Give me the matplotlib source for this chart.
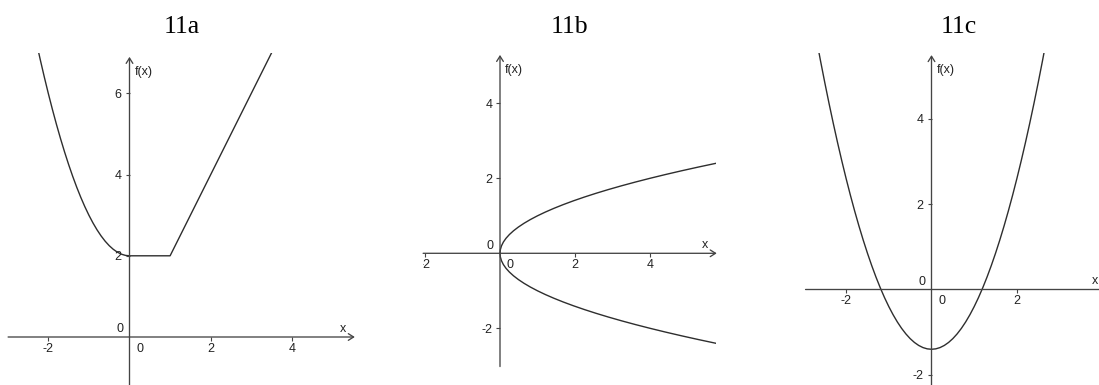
import matplotlib
matplotlib.use("Agg")
import matplotlib.pyplot as plt

plt.rcParams["font.family"] = ["Liberation Sans", "DejaVu Sans"]

W, H = 1099, 385

titles = ["11a", "11b", "11c"]

# ---- 11a : piecewise function ----
a_x = [-2.3, -2.2, -2.1, -2.0, -1.9, -1.8, -1.7, -1.6, -1.5, -1.4, -1.3, -1.2,
       -1.1, -1.0, -0.9, -0.8, -0.7, -0.6, -0.5, -0.4, -0.3, -0.2, -0.1, 0.0,
       1.0, 3.6]
a_y = [7.29, 6.84, 6.41, 6.00, 5.61, 5.24, 4.89, 4.56, 4.25, 3.96, 3.69, 3.44,
       3.21, 3.00, 2.81, 2.64, 2.49, 2.36, 2.25, 2.16, 2.09, 2.04, 2.01, 2.00,
       2.00, 7.20]
a_xticks = [-2, 2, 4]
a_xticklabels = ["-2", "2", "4"]
a_yticks = [2, 4, 6]
a_yticklabels = ["2", "4", "6"]

# ---- 11b : sideways parabola, upper branch (lower branch is its mirror) ----
b_x = [0.00, 0.01, 0.04, 0.09, 0.16, 0.25, 0.36, 0.49, 0.64, 0.81, 1.00, 1.21,
       1.44, 1.69, 1.96, 2.25, 2.56, 2.89, 3.24, 3.61, 4.00, 4.41, 4.84, 5.29,
       5.76, 6.25]
b_y = [0.0, 0.1, 0.2, 0.3, 0.4, 0.5, 0.6, 0.7, 0.8, 0.9, 1.0, 1.1,
       1.2, 1.3, 1.4, 1.5, 1.6, 1.7, 1.8, 1.9, 2.0, 2.1, 2.2, 2.3,
       2.4, 2.5]
b_xticks = [-2, 2, 4]
b_xticklabels = ["-2", "2", "4"]
b_yticks = [-2, 2, 4]
b_yticklabels = ["-2", "2", "4"]

# ---- 11c : parabola ----
c_x = [-2.7, -2.6, -2.5, -2.4, -2.3, -2.2, -2.1, -2.0, -1.9, -1.8, -1.7, -1.6,
       -1.5, -1.4, -1.3, -1.2, -1.1, -1.0, -0.9, -0.8, -0.7, -0.6, -0.5, -0.4,
       -0.3, -0.2, -0.1, 0.0, 0.1, 0.2, 0.3, 0.4, 0.5, 0.6, 0.7, 0.8, 0.9, 1.0,
       1.1, 1.2, 1.3, 1.4, 1.5, 1.6, 1.7, 1.8, 1.9, 2.0, 2.1, 2.2, 2.3, 2.4,
       2.5, 2.6, 2.7]
c_y = [5.89, 5.36, 4.85, 4.36, 3.89, 3.44, 3.01, 2.60, 2.21, 1.84, 1.49, 1.16,
       0.85, 0.56, 0.29, 0.04, -0.19, -0.40, -0.59, -0.76, -0.91, -1.04, -1.15,
       -1.24, -1.31, -1.36, -1.39, -1.40, -1.39, -1.36, -1.31, -1.24, -1.15,
       -1.04, -0.91, -0.76, -0.59, -0.40, -0.19, 0.04, 0.29, 0.56, 0.85, 1.16,
       1.49, 1.84, 2.21, 2.60, 3.01, 3.44, 3.89, 4.36, 4.85, 5.36, 5.89]
c_xticks = [-2, 2]
c_xticklabels = ["-2", "2"]
c_yticks = [-2, 2, 4]
c_yticklabels = ["-2", "2", "4"]

# ---- layout (pixels) ----
panels = [
    dict(ox=129.5, oy=337.0, s=40.6, clip=(-3.1, 5.7, -1.25, 6.99),
         xline=(-2.99, 5.55), yline=(-1.25, 6.90), title_x=182),
    dict(ox=500.0, oy=253.3, s=37.5, clip=(-2.05, 5.76, -3.1, 5.4),
         xline=(-2.05, 5.78), yline=(-3.02, 5.29), title_x=569),
    dict(ox=931.5, oy=289.5, s=42.7, clip=(-3.0, 4.3, -2.3, 5.53),
         xline=(-2.95, 4.12), yline=(-2.3, 5.49), title_x=959),
]

AXC = "#444444"
CURVE = "#2e2e2e"
TXT = "#222222"
FS = 9

fig = plt.figure(figsize=(W / 100, H / 100), dpi=100)
fig.patch.set_facecolor("white")

axes = []
for p in panels:
    x0, x1, y0, y1 = p["clip"]
    left = p["ox"] + x0 * p["s"]
    right = p["ox"] + x1 * p["s"]
    top = p["oy"] - y1 * p["s"]
    bottom = p["oy"] - y0 * p["s"]
    ax = fig.add_axes([left / W, 1 - bottom / H, (right - left) / W, (bottom - top) / H])
    ax.set_xlim(x0, x1)
    ax.set_ylim(y0, y1)
    ax.patch.set_alpha(0)
    for side in ("left", "bottom"):
        ax.spines[side].set_position(("data", 0))
        ax.spines[side].set_visible(False)
    for side in ("right", "top"):
        ax.spines[side].set_visible(False)
    ax.tick_params(axis="both", direction="out", length=2.6, width=0.8, color=AXC,
                   labelsize=FS, labelcolor=TXT)
    ax.tick_params(axis="x", pad=1.6)
    ax.tick_params(axis="y", pad=3.0)
    # axis lines with open arrow heads
    style = "->,head_length=0.38,head_width=0.24"
    ax.annotate("", xy=(p["xline"][1], 0), xytext=(p["xline"][0], 0),
                arrowprops=dict(arrowstyle=style, lw=0.95, color=AXC,
                                shrinkA=0, shrinkB=0), annotation_clip=False)
    ax.annotate("", xy=(0, p["yline"][1]), xytext=(0, p["yline"][0]),
                arrowprops=dict(arrowstyle=style, lw=0.95, color=AXC,
                                shrinkA=0, shrinkB=0), annotation_clip=False)
    # axis names
    ax.annotate("f(x)", xy=(0, p["yline"][1]), xytext=(5, -15),
                textcoords="offset pixels", ha="left", va="center",
                fontsize=FS, color=TXT, annotation_clip=False)
    ax.annotate("x", xy=(p["xline"][1], 0), xytext=(-12, 8),
                textcoords="offset pixels", ha="center", va="center",
                fontsize=FS, color=TXT, annotation_clip=False)
    # origin labels
    ax.annotate("0", xy=(0, 0), xytext=(-9.5, 7.5), textcoords="offset pixels",
                ha="center", va="center", fontsize=FS, color=TXT, annotation_clip=False)
    ax.annotate("0", xy=(0, 0), xytext=(10.5, -11.5), textcoords="offset pixels",
                ha="center", va="center", fontsize=FS, color=TXT, annotation_clip=False)
    fig.text(p["title_x"] / W, 1 - 33 / H, titles[len(axes)], ha="center",
             va="baseline", fontsize=18.5, family="Liberation Serif", color="black")
    axes.append(ax)

ax_a, ax_b, ax_c = axes

ax_a.plot(a_x, a_y, color=CURVE, lw=1.0, solid_joinstyle="round")
ax_a.set_xticks(a_xticks, a_xticklabels)
ax_a.set_yticks(a_yticks, a_yticklabels)

ax_b.plot(b_x, b_y, color=CURVE, lw=1.0)
ax_b.plot(b_x, [-v for v in b_y], color=CURVE, lw=1.0)
ax_b.set_xticks(b_xticks, b_xticklabels)
ax_b.set_yticks(b_yticks, b_yticklabels)
for lbl in ax_b.get_xticklabels():
    lbl.set_clip_box(ax_b.bbox)
    lbl.set_clip_on(True)

ax_c.plot(c_x, c_y, color=CURVE, lw=1.0)
ax_c.set_xticks(c_xticks, c_xticklabels)
ax_c.set_yticks(c_yticks, c_yticklabels)

fig.savefig("out.png", dpi=100, facecolor="white")
